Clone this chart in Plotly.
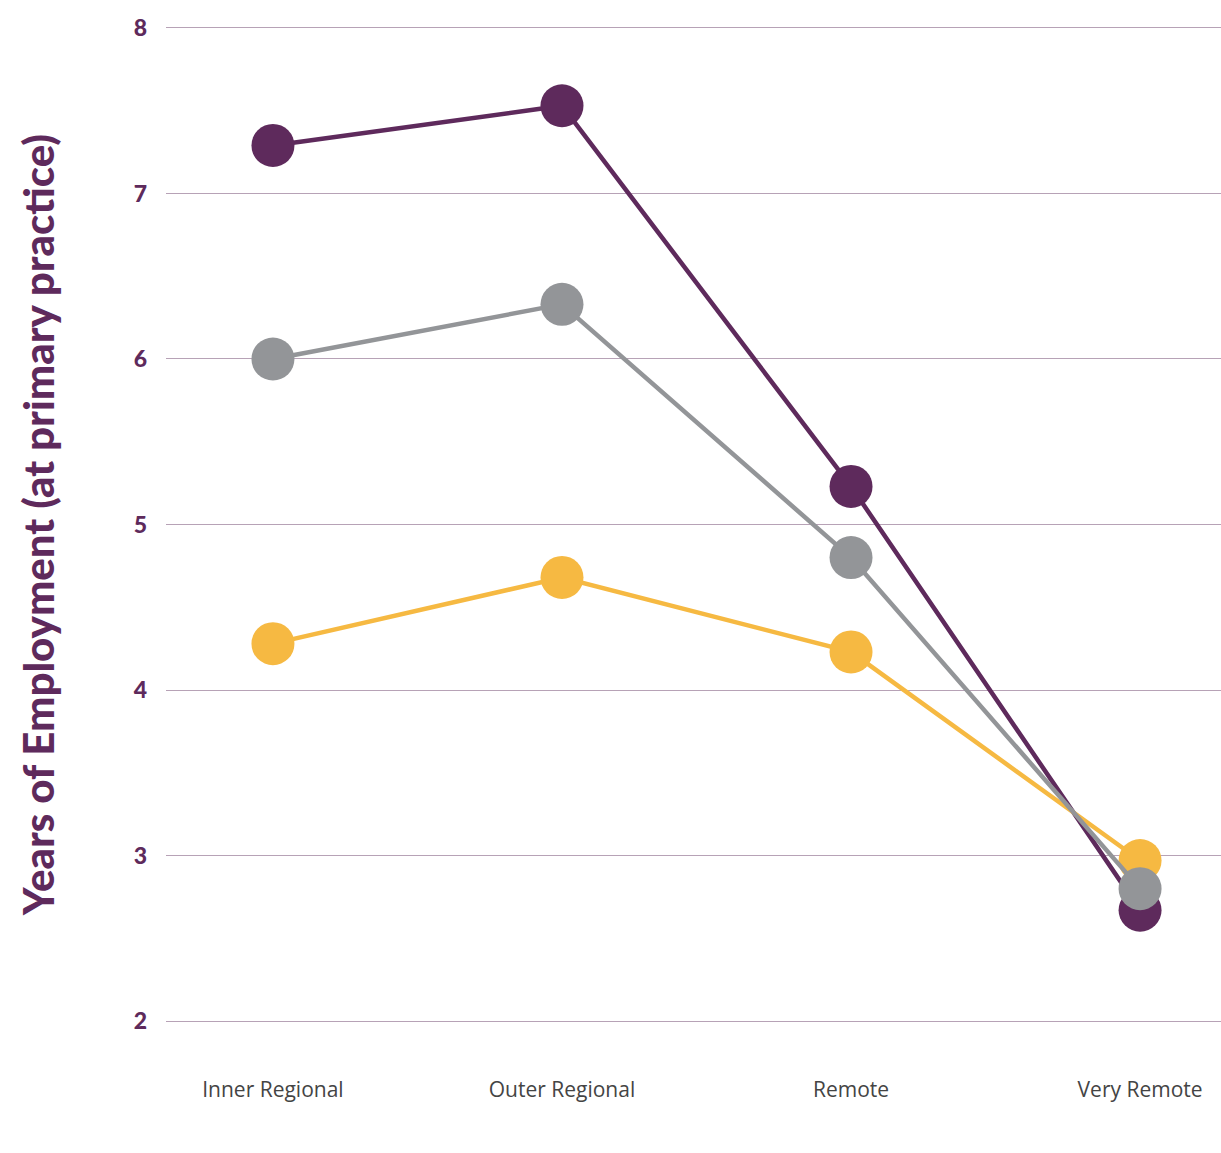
import plotly.graph_objects as go

# Remoteness categories and mean years of employment at the primary practice
categories = ["Inner Regional", "Outer Regional", "Remote", "Very Remote"]
series_purple = [7.29, 7.53, 5.23, 2.67]
series_yellow = [4.28, 4.68, 4.23, 2.97]
series_gray = [6.00, 6.33, 4.80, 2.80]
y_ticks = [2, 3, 4, 5, 6, 7, 8]

PURPLE = "#5E2A5C"
YELLOW = "#F6B942"
GRAY = "#939598"
GRID = "#B7A2B6"

fig = go.Figure()

# drawing order: purple at the back, grey on top
for values, colour in [(series_purple, PURPLE), (series_yellow, YELLOW), (series_gray, GRAY)]:
    fig.add_trace(go.Scatter(
        x=categories,
        y=values,
        mode="lines+markers",
        line=dict(color=colour, width=4.5),
        marker=dict(color=colour, size=43, line=dict(width=0)),
        showlegend=False,
        hoverinfo="x+y",
    ))

fig.update_layout(
    width=1221,
    height=1153,
    margin=dict(l=166, r=0, t=23, b=127),
    paper_bgcolor="white",
    plot_bgcolor="white",
    font=dict(family="Lato, 'Open Sans', sans-serif"),
    xaxis=dict(
        type="category",
        range=[-0.37, 3.28],
        showgrid=False,
        showline=False,
        zeroline=False,
        ticks="",
        ticklabelstandoff=49,
        tickfont=dict(size=21, color="#444444", family="'Open Sans', sans-serif"),
    ),
    yaxis=dict(
        range=[1.97, 8.03],
        tickvals=y_ticks,
        showgrid=True,
        gridcolor=GRID,
        gridwidth=1,
        showline=False,
        zeroline=False,
        ticks="",
        ticklabelstandoff=18,
        tickfont=dict(size=23, color=PURPLE, family="Lato, sans-serif", weight=900),
        title=dict(
            text="Years of Employment (at primary practice)",
            font=dict(size=42, color=PURPLE, family="Lato, sans-serif", weight=900),
            standoff=65,
        ),
    ),
)

fig.write_html("out.html")
